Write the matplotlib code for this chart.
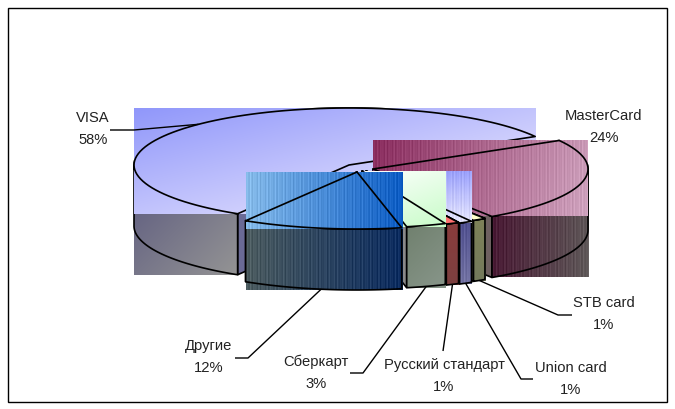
import numpy as np
import matplotlib
matplotlib.use('Agg')
import matplotlib.pyplot as plt
from matplotlib.patches import Polygon

# clockwise from the 30 degree start
names = ['MasterCard', 'STB card', 'Union card', 'Русский стандарт', 'Сберкарт', 'Другие', 'VISA']
shares = [24, 1, 1, 1, 3, 12, 58]

# layout in figure pixels
start_angle = 30.0
rx, ry, depth = 215.0, 57.0, 61.0
apex = [(373, 169), (366, 171), (364, 172), (363, 171.5), (362, 171), (357, 172), (349, 165)]
label_xy = [(604, 127), (604, 314), (571, 379), (444, 376), (316, 373), (209, 357), (93, 129)]
elbow = [None, [(558, 315), (572, 315)], [(521, 379), (533, 379)], [(443, 351)],
         [(363, 373), (350, 373)], [(248, 358), (235, 358)], [(134, 130), (110, 130)]]

# top gradient, side gradient, face colour, gradient direction (x, y), stripes
styles = {
    'VISA': (('#9097fa', '#f4f0ff'), ('#5a587e', '#949494'), '#6a6a96', (1, 1), 0),
    'MasterCard': (('#8a2c5e', '#d0a4bf'), ('#481632', '#605a5a'), '#6e6060', (1, 0.1), 0.05),
    'Другие': (('#86bbea', '#0c5cc4'), ('#4c5c60', '#0c2c60'), '#4c5c60', (1, 0), 0.06),
    'Сберкарт': (('#ffffff', '#c8fcc8'), ('#70806e', '#88968a'), '#8a8a8a', (0.6, 1), 0),
    'Union card': (('#9aa0fc', '#e8e8ff'), ('#505090', '#7474a4'), '#505090', (0, 1), 0.05),
    'Русский стандарт': (('#ff8080', '#ff7070'), ('#8a3c3c', '#7c4040'), '#703030', (0, 1), 0),
    'STB card': (('#ffffcc', '#ffffcc'), ('#7e8258', '#747a5c'), '#6e6e50', (0, 1), 0),
}
clip_top = ['Русский стандарт', 'STB card']
draw_order = ['VISA', 'MasterCard', 'STB card', 'Union card', 'Русский стандарт', 'Сберкарт', 'Другие']
z = [10]


def next_z():
    z[0] += 1
    return z[0]


def to_rgb(c):
    return np.array(matplotlib.colors.to_rgb(c))


def gradient(x0, x1, y0, y1, cols, direction, stripes):
    w = max(int(round(x1 - x0)), 2)
    h = max(int(round(y1 - y0)), 2)
    xx, yy = np.meshgrid(np.linspace(0, 1, w), np.linspace(0, 1, h))
    t = (direction[0] * xx + direction[1] * yy) / (direction[0] + direction[1])
    img = to_rgb(cols[0]) + t[..., None] * (to_rgb(cols[1]) - to_rgb(cols[0]))
    if stripes:
        band = stripes * np.sin(np.arange(w) * 1.9) * np.sin(np.arange(w) * 0.37)
        img = img + band[None, :, None]
    return np.clip(img, 0, 1)


def image_box(ax, pts, cols, direction, stripes, clip=None):
    x0, x1 = pts[:, 0].min(), pts[:, 0].max()
    y0, y1 = pts[:, 1].min(), pts[:, 1].max()
    im = ax.imshow(gradient(x0, x1, y0, y1, cols, direction, stripes), extent=(x0, x1, y1, y0),
                   aspect='auto', interpolation='nearest', zorder=next_z())
    if clip is not None:
        im.set_clip_path(clip)


def rim(center, a0, a1):
    a = np.radians(np.linspace(a0, a1, 90))
    return np.column_stack((center[0] + rx * np.cos(a), center[1] - ry * np.sin(a)))


def outline(ax, pts):
    p = Polygon(pts, closed=True, fill=False, ec='black', lw=1.2, joinstyle='round', zorder=next_z())
    ax.add_patch(p)
    return p


fig = plt.figure(figsize=(6.75, 4.09), dpi=100)
ax = fig.add_axes([0, 0, 1, 1])

# wedge angles come from the shares
edges = start_angle - np.cumsum([0] + shares) * 3.6
angles = {n: (edges[i], edges[i + 1], apex[i]) for i, n in enumerate(names)}

for name in draw_order:
    a0, a1, c = angles[name]
    top_cols, side_cols, face_col, direction, stripes = styles[name]
    arc = rim(c, a0, a1)
    # cut face on the way back to the apex
    for end in (arc[0], arc[-1]):
        if end[1] > c[1]:
            face = np.array([end, c, (c[0], c[1] + depth), (end[0], end[1] + depth)])
            ax.add_patch(Polygon(face, closed=True, fc=face_col, ec='black', lw=1.2, zorder=next_z()))
    # outer wall, only the part of the rim facing us
    front = rim(c, min(a0, 0), max(a1, -180))
    wall = np.vstack((front, front[::-1] + [0, depth]))
    image_box(ax, wall, side_cols, direction, stripes)
    outline(ax, wall)
    # top surface
    top = np.vstack(([c], arc))
    shape = outline(ax, top)
    image_box(ax, top, top_cols, direction, stripes, clip=shape if name in clip_top else None)
    outline(ax, top)

# leaders start at the middle of each slice, labels on top
for i, name in enumerate(names):
    a0, a1, c = angles[name]
    mid = np.radians((a0 + a1) / 2)
    if elbow[i] is not None:
        sx = c[0] + rx * np.cos(mid)
        sy = c[1] - ry * np.sin(mid) + (0 if name == 'VISA' else depth)
        pts = np.array([(sx, sy)] + elbow[i])
        ax.plot(pts[:, 0], pts[:, 1], color='black', lw=1.0, solid_capstyle='butt', zorder=200)
    ax.text(label_xy[i][0], label_xy[i][1], f'{name}\n{shares[i]}%', ha='center', va='center',
            fontsize=10.6, family='Liberation Sans', color='#222222', linespacing=1.75, zorder=201)

ax.set_xlim(0, 675)
ax.set_ylim(409, 0)
ax.axis('off')

# outer frame
ax.add_patch(plt.Rectangle((7.5, 7.5), 659.5, 394.5, fill=False, ec='black', lw=1.0, zorder=202))

plt.savefig('out.png', dpi=100)
